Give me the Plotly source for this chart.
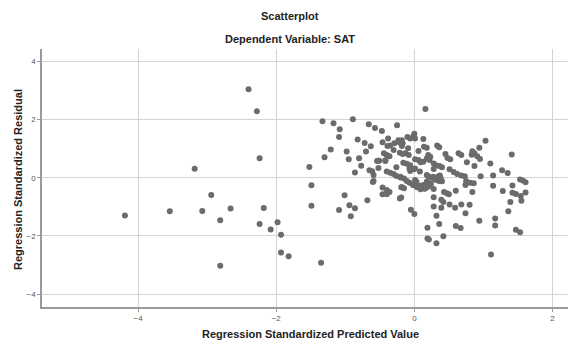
import plotly.graph_objects as go

# Regression standardized predicted values (x) and residuals (y)
pred = [
    -4.19, -3.54, -3.18, -3.07, -2.94, -2.81, -2.81, -2.66, -2.40, -2.28, -2.24, -2.18, -2.24, -2.08, -1.98, -1.93, -1.93, -1.82, -1.35,
    -1.52, -1.49, -1.49, -1.33, -1.30, -1.21, -1.17, -1.08, -1.09, -1.01, -1.09, -0.98, -0.95, -0.94, -0.92, -0.89, -0.86, -0.86,
    -0.82, -0.80, -0.77, -0.72, -0.70, -0.68, -0.66, -0.65, -0.63, -0.61, -0.60, -0.59, -0.59, -0.57, -0.52, -0.52, -0.47, -0.46,
    -0.46, -0.46, -0.44, -0.42, -0.40, -0.40, -0.40, -0.39, -0.38, -0.36, -0.36, -0.35, -0.30, -0.29, -0.26, -0.25, -0.23, -0.20,
    -0.19, -0.19, -0.17, -0.16, -0.05, 0.00,
    -0.40, -0.35, -0.30, -0.26, -0.20, -0.15, -0.11, -0.07, -0.02, 0.02, 0.08, 0.13, 0.18,
    0.00, -0.01, 0.01, -0.10, -0.06, 0.13, -0.18, -0.21, -0.18, 0.14, 0.18, 0.06, -0.09, -0.13, -0.08, -0.17, -0.21, 0.20, 0.23,
    0.18, 0.22, 0.01, 0.06, 0.09, -0.11, -0.06, 0.28, 0.31, 0.36, 0.40, -0.06, -0.01, 0.08, 0.28, -0.07, 0.01, 0.13, 0.18,
    0.20, 0.24, 0.27, 0.30, 0.33, 0.36, 0.38, 0.40, 0.34, 0.37, 0.38,
    -0.20, 0.01, 0.03, -0.01, 0.12, 0.15, 0.14, 0.23, -0.18, -0.15, -0.21,
    0.16, 1.03, 0.94, 1.41, 0.84, 0.87, 0.83, 0.91, 0.95, 1.10, 0.76, 0.87, 0.64, 0.68, 0.45, 0.52, 0.48, 0.33, 0.36, 1.27, 1.35,
    1.14, 0.96, 0.51, 0.57, 0.62, 0.68, 0.73, 0.75, 0.81, 0.86, 0.74, 0.60, 0.50, 0.47, 0.43, 0.84, 1.14, 1.28, 0.28, 0.28, 0.28,
    0.39, 0.42, 0.39, 0.51, 0.59, 0.68, 0.80, 0.74, 0.32, 0.36, 0.19, 0.19, 0.21, 0.32, 0.42, 0.60, 0.67, 0.94, 1.17, 1.17, 1.11,
    1.36, 1.39, 1.47, 1.53, 1.55, 1.61, 1.54, 1.47, 1.42, 1.42, 1.53, 1.57, 1.61,
    0.04, 0.09, 0.16, 0.20, 0.24, -0.54, -0.51, -0.42,
]
resid = [
    -1.30, -1.15, 0.31, -1.14, -0.59, -1.46, -3.02, -1.06, 3.04, 2.28, 0.67, -1.04, -1.59, -1.78, -1.53, -1.96, -2.57, -2.70, -2.92,
    0.37, -0.26, -0.96, 1.94, 0.70, 0.97, 1.87, 1.66, 1.40, -0.60, -1.11, 0.90, 0.63, -0.95, -1.32, 2.01, -1.05, 0.18,
    1.31, 0.67, 0.41, 1.19, 0.90, -0.77, 1.84, 0.26, 1.08, 0.22, -0.15, 0.09, -0.11, 1.71, 0.58, 0.33, 1.60, 1.22,
    -0.34, -0.57, 0.84, 0.57, 0.78, -0.42, -0.57, 1.09, 1.35, 0.74, -0.49, 1.11, 0.95, 1.18, 0.36, 1.80, 1.29, 1.23,
    -0.33, -0.68, 1.18, 0.51, -1.10, -1.25,
    0.21, 0.17, 0.13, 0.06, 0.01, -0.03, -0.11, -0.17, -0.25, -0.28, -0.28, -0.25, -0.14,
    1.51, 1.43, 1.35, 1.40, 1.35, 1.33, 1.29, 1.20, 1.09, 1.06, 1.03, 0.92, 1.01, 0.84, 0.78, 0.81, 0.86, 0.78, 0.72,
    0.66, 0.61, 0.63, 0.61, 0.53, 0.48, 0.43, 0.49, 0.43, 0.40, 0.36, 0.23, 0.29, 0.21, 0.30, 0.32, 0.32, 0.55, 0.09,
    0.05, 0.00, 0.03, -0.06, -0.08, -0.11, -0.06, -0.12, 0.03, 0.08, -0.01,
    0.03, -0.08, -0.14, -0.25, -0.33, -0.38, -0.29, -0.20, -0.33, -0.36, -0.71,
    2.36, 1.27, 1.03, 0.80, 0.91, 0.84, 0.79, 0.74, 0.64, 0.49, 0.53, 0.40, 0.84, 0.78, 0.81, 0.63, 0.68, 1.11, 1.05, 0.26, 0.16,
    0.08, 0.05, 0.29, 0.20, 0.13, 0.08, 0.05, -0.11, -0.17, -0.19, -0.25, -0.45, -0.57, -0.53, -0.49, -0.49, -0.28, -0.46, -0.67, -0.99, -0.39,
    -0.76, -0.83, -1.03, -0.92, -1.03, -0.92, -0.93, -1.22, -1.31, -1.59, -1.72, -2.09, -2.12, -2.25, -2.01, -1.66, -1.73, -1.48, -1.40, -1.64, -2.64,
    -1.15, -0.83, -1.79, -1.87, -0.79, -0.51, -0.63, -0.56, -0.52, -0.27, -0.06, -0.10, -0.16,
    -0.33, -0.40, -0.36, -0.31, -0.22, 0.57, 0.58, 0.60,
]

x_ticks = [-4, -2, 0, 2]
y_ticks = [-4, -2, 0, 2, 4]
title_text = "Scatterplot"
subtitle_text = "Dependent Variable: SAT"
x_title = "Regression Standardized Predicted Value"
y_title = "Regression Standardized Residual"

FONT = "Liberation Sans, Arial, sans-serif"

fig = go.Figure(go.Scatter(
    x=pred, y=resid, mode="markers",
    marker=dict(size=6, color="#6b6b6b", line=dict(width=0)),
    hoverinfo="x+y",
))

OFF = 8  # page body margin
W, H = 576 - OFF, 341 - OFF
L, R, T = 42 - OFF, 0, 49 - OFF
B = H - (307 - OFF)
pw, ph = W - L - R, H - T - B

def px2paper_x(px):
    return (px - OFF - L) / pw

def py2paper_y(py):
    return (H - B - (py - OFF)) / ph

axis_common = dict(
    showgrid=True, gridcolor="#d4d4d4", gridwidth=1,
    zeroline=True, zerolinecolor="#d4d4d4", zerolinewidth=1,
    showline=True, linecolor="#9a9a9a", linewidth=1.5,
    ticks="outside", ticklen=3, tickcolor="#9a9a9a",
    tickfont=dict(family=FONT, size=8, color="#555555"),
    mirror=False, fixedrange=True,
)

fig.update_layout(
    width=W, height=H,
    margin=dict(l=L, r=R, t=T, b=B, pad=0),
    paper_bgcolor="white", plot_bgcolor="white",
    showlegend=False,
    xaxis=dict(range=[-5.39, 2.34], tickvals=x_ticks, **axis_common),
    yaxis=dict(range=[-4.44, 4.42], tickvals=y_ticks, **axis_common),
    annotations=[
        dict(text=f"<b>{title_text}</b>", xref="paper", yref="paper",
             x=px2paper_x(290), y=py2paper_y(16), xanchor="center", yanchor="middle",
             showarrow=False, font=dict(family=FONT, size=11, color="#222222")),
        dict(text=f"<b>{subtitle_text}</b>", xref="paper", yref="paper",
             x=px2paper_x(290), y=py2paper_y(39), xanchor="center", yanchor="middle",
             showarrow=False, font=dict(family=FONT, size=11, color="#222222")),
        dict(text=f"<b>{x_title}</b>", xref="paper", yref="paper",
             x=px2paper_x(310), y=py2paper_y(334), xanchor="center", yanchor="middle",
             showarrow=False, font=dict(family=FONT, size=11, color="#222222")),
        dict(text=f"<b>{y_title}</b>", xref="paper", yref="paper",
             x=px2paper_x(18), y=py2paper_y(180), xanchor="center", yanchor="middle",
             textangle=-90, showarrow=False, font=dict(family=FONT, size=11, color="#222222")),
    ],
)

fig.write_html("out.html")
